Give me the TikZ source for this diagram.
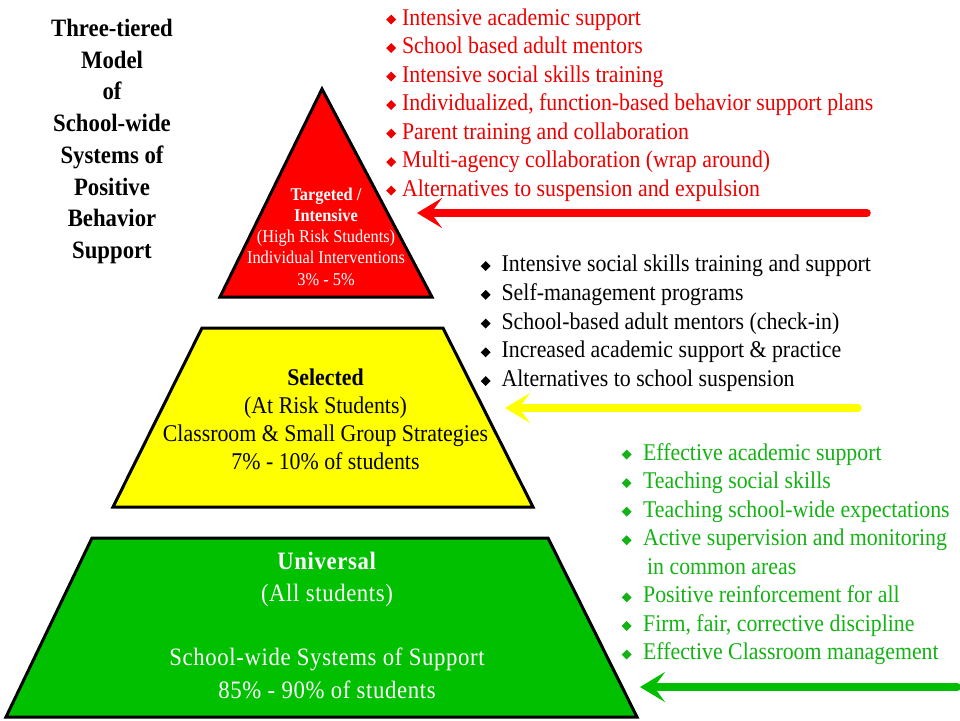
\documentclass[tikz,border=0pt]{standalone}
\usepackage{fontspec}
\setmainfont{Liberation Serif}[FakeStretch=0.91]
\usetikzlibrary{arrows.meta}
\definecolor{tRed}{RGB}{255,0,0}
\definecolor{tRedText}{RGB}{238,0,0}
\definecolor{tYellow}{RGB}{255,255,0}
\definecolor{tGreen}{RGB}{0,192,0}
\definecolor{tGreenText}{RGB}{20,178,20}
\definecolor{tGreenArrow}{RGB}{0,190,0}
\newcommand\dbul{\raisebox{0.5pt}{\rotatebox{45}{\rule{7pt}{7pt}}}}
\tikzset{
  tier/.style={draw=black, line width=3pt, line join=miter},
  listtext/.style={inner sep=0pt, anchor=base west, font=\fontsize{24}{28.5}\selectfont},
  tiertext/.style={inner sep=0pt, anchor=base},
  bigarrow/.style={line width=7.5pt, line cap=round,
    -{Stealth[length=25pt, width=30pt, inset=11pt]}},
}
\begin{document}
\begin{tikzpicture}[x=1pt, y=-1pt]
\path[use as bounding box, fill=white] (0,0) rectangle (960,720);

% title
\node[tiertext] (title) at (112,36.5) {\fontsize{25}{31.7}\selectfont\bfseries
  \begin{tabular}[t]{@{}c@{}}Three-tiered\\ Model\\ of\\ School-wide\\ Systems of\\ Positive\\ Behavior\\ Support\end{tabular}};

% tiers
\coordinate (rA) at (322,89);
\coordinate (rL) at (220,297);
\coordinate (rR) at (432,297);
\fill[tRed] (rA) -- (rL) -- (rR) -- cycle;
\draw[tier] (rA) -- (rL) -- (rR) -- cycle;

\coordinate (yTL) at (202,328);
\coordinate (yTR) at (443,328);
\coordinate (yBR) at (533,507);
\coordinate (yBL) at (113,507);
\fill[tYellow] (yTL) -- (yTR) -- (yBR) -- (yBL) -- cycle;
\draw[tier] (yTL) -- (yTR) -- (yBR) -- (yBL) -- cycle;

\coordinate (gTL) at (92,538);
\coordinate (gTR) at (548,538);
\coordinate (gBR) at (637,717);
\coordinate (gBL) at (6,717);
\fill[tGreen] (gTL) -- (gTR) -- (gBR) -- (gBL) -- cycle;
\draw[tier] (gTL) -- (gTR) -- (gBR) -- (gBL) -- cycle;

% tier texts
\node[tiertext, text=white] (redtxt) at (326,200) {\fontsize{18}{21.25}\selectfont
  \begin{tabular}[t]{@{}c@{}}\textbf{Targeted /}\\ \textbf{Intensive}\\ (High Risk Students)\\ Individual Interventions\\ 3\% - 5\%\end{tabular}};

\node[tiertext, text=black] (yeltxt) at (325.5,385) {\fontsize{24}{28.3}\selectfont
  \begin{tabular}[t]{@{}c@{}}\textbf{Selected}\\ (At Risk Students)\\ Classroom \& Small Group Strategies\\ 7\% - 10\% of students\end{tabular}};

\node[tiertext, text=white] (grntxt) at (327,569) {\fontsize{25}{32.25}\selectfont\addfontfeature{LetterSpace=2.5}
  \begin{tabular}[t]{@{}c@{}}\textbf{Universal}\\ (All students)\\ \\ School-wide Systems of Support\\ 85\% - 90\% of students\end{tabular}};

% lists
\node[listtext, text=tRedText] (redlist) at (386,25) {%
  \begin{tabular}[t]{@{}l@{\hspace{6pt}}l@{}}
  \dbul & Intensive academic support\\
  \dbul & School based adult mentors\\
  \dbul & Intensive social skills training\\
  \dbul & Individualized, function-based behavior support plans\\
  \dbul & Parent training and collaboration\\
  \dbul & Multi-agency collaboration (wrap around)\\
  \dbul & Alternatives to suspension and expulsion
  \end{tabular}};

\node[listtext, text=black, font=\fontsize{24}{28.75}\selectfont] (blklist) at (480.5,271.5) {%
  \begin{tabular}[t]{@{}l@{\hspace{11pt}}l@{}}
  \dbul & Intensive social skills training and support\\
  \dbul & Self-management programs\\
  \dbul & School-based adult mentors (check-in)\\
  \dbul & Increased academic support \& practice\\
  \dbul & Alternatives to school suspension
  \end{tabular}};

\node[listtext, text=tGreenText, font=\fontsize{24}{28.57}\selectfont] (grnlist) at (621.5,460) {%
  \begin{tabular}[t]{@{}l@{\hspace{11.5pt}}l@{}}
  \dbul & Effective academic support\\
  \dbul & Teaching social skills\\
  \dbul & Teaching school-wide expectations\\
  \dbul & Active supervision and monitoring\\
        & \hspace{4pt}in common areas\\
  \dbul & Positive reinforcement for all\\
  \dbul & Firm, fair, corrective discipline\\
  \dbul & Effective Classroom management
  \end{tabular}};

% arrows
\coordinate (redTail) at (867,213);
\coordinate (redTip) at (417,213);
\coordinate (yelTail) at (858,408);
\coordinate (yelTip) at (505,408);
\coordinate (grnTail) at (957,687);
\coordinate (grnTip) at (640,687);
\draw[bigarrow, tRed] (redTail) -- (redTip);
\draw[bigarrow, tYellow] (yelTail) -- (yelTip);
\draw[bigarrow, tGreenArrow] (grnTail) -- (grnTip);
\end{tikzpicture}
\end{document}
